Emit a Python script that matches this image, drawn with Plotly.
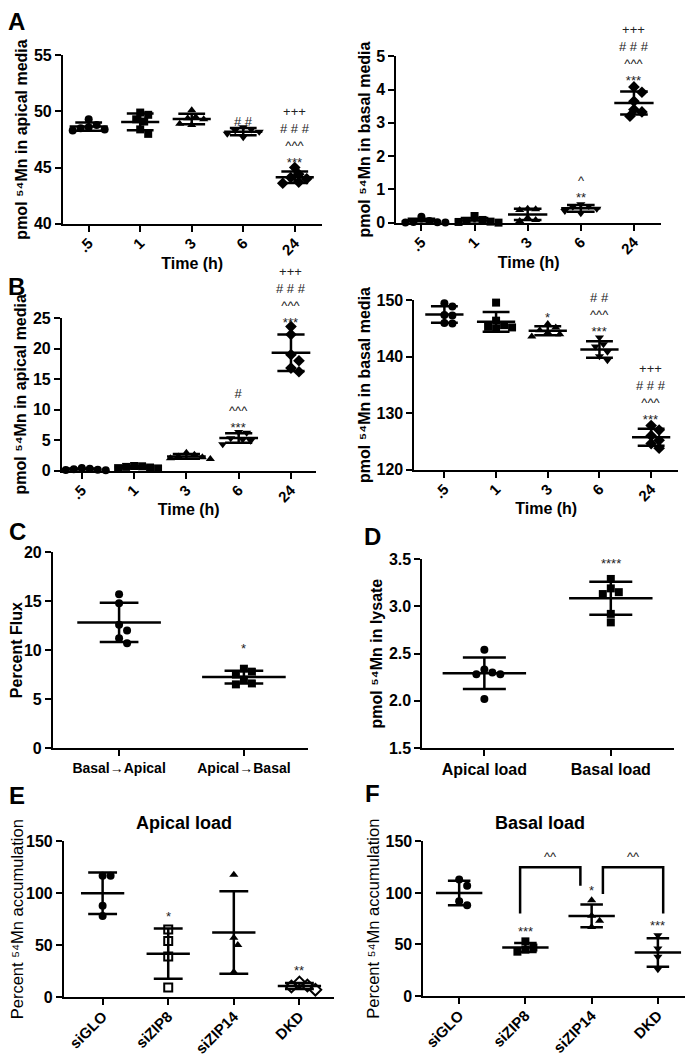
import numpy as np
import plotly.graph_objects as go

# page body has an 8px default margin: draw in reference pixels shifted by OFF
OFF = 8
W, H = 693 - OFF, 1063 - OFF
FONT = "Liberation Sans, Arial, sans-serif"

# ---------------- data ----------------
time_labels = [".5", "1", "3", "6", "24"]

a_apical = [
    [49.3, 48.8, 48.6, 48.5, 48.4, 48.3],
    [49.9, 49.7, 49.3, 49.1, 48.4, 48.0],
    [50.1, 49.5, 49.4, 49.3, 48.9, 48.8],
    [48.6, 48.4, 48.3, 48.2, 48.0, 47.7],
    [45.0, 44.4, 44.1, 44.0, 43.7, 43.6],
]
a_apical_sig = [[], [], [], ["# #"], ["***", "^^^", "# # #", "+++"]]

a_basal = [
    [0.18, 0.05, 0.02, 0.01, 0.0, 0.0],
    [0.20, 0.08, 0.05, 0.03, 0.02, 0.0],
    [0.42, 0.40, 0.38, 0.15, 0.08, 0.05],
    [0.55, 0.50, 0.48, 0.42, 0.35, 0.28],
    [4.08, 3.92, 3.65, 3.40, 3.33, 3.20],
]
a_basal_sig = [[], [], [], ["**", "^"], ["***", "^^^", "# # #", "+++"]]

b_apical = [
    [0.40, 0.30, 0.20, 0.15, 0.10, 0.05],
    [0.75, 0.70, 0.60, 0.50, 0.40, 0.35],
    [2.9, 2.6, 2.3, 2.2, 2.0, 1.9],
    [6.3, 6.2, 5.3, 5.1, 4.9, 4.3],
    [23.6, 22.3, 19.0, 18.0, 16.8, 16.2],
]
b_apical_sig = [[], [], [], ["***", "^^^", "#"], ["***", "^^^", "# # #", "+++"]]

b_basal = [
    [149.5, 148.9, 147.4, 147.3, 146.0, 145.9],
    [149.6, 146.4, 145.6, 145.3, 145.2, 145.0],
    [145.8, 145.2, 144.7, 144.3, 144.0, 143.6],
    [143.4, 142.2, 141.8, 140.9, 140.1, 139.4],
    [127.8, 127.0, 126.0, 125.2, 124.6, 123.8],
]
b_basal_sig = [[], [], ["*"], ["***", "^^^", "# #"], ["***", "^^^", "# # #", "+++"]]

c_labels = ["Basal→Apical", "Apical→Basal"]
c_flux = [[15.7, 14.8, 12.6, 12.0, 11.2, 10.7], [8.1, 7.8, 7.5, 7.0, 6.6, 6.5]]
c_sig = [[], ["*"]]

d_labels = ["Apical load", "Basal load"]
d_lysate = [[2.54, 2.33, 2.30, 2.28, 2.28, 2.02], [3.29, 3.19, 3.15, 3.13, 2.92, 2.83]]
d_sig = [[], ["****"]]

kd_labels = ["siGLO", "siZIP8", "siZIP14", "DKD"]
e_apical_load = [[117, 117, 88, 78], [65, 54, 39, 9], [118, 57, 50, 24], [14, 11, 10, 7]]
e_sig = [[], ["*"], [], ["**"]]

f_basal_load = [[113, 107, 92, 88], [53, 47, 45, 43], [93, 78, 73, 67], [59, 46, 38, 26]]
f_sig = [[], ["***"], ["*"], ["***"]]
f_brackets = [("siZIP8", "siZIP14", "^^"), ("siZIP14", "DKD", "^^")]
f_bracket_top = 125
f_bracket_legs = [(80, 107), (99, 80)]

# ---------------- style / layout ----------------
time_symbols = ["circle", "square", "triangle-up", "triangle-down", "diamond"]
SUP = "⁵⁴"

panels = [
    dict(letter="A", data=a_apical, sig=a_apical_sig, cats=time_labels, symbols=time_symbols,
         box=(62, 321, 48, 219), xr=(-0.5, 4.52), yr=(40, 55), dtick=5,
         ytitle=f"pmol {SUP}Mn in apical media", xtitle="Time (h)", tickangle=-45,
         mhw=0.37, chw=0.26, sigoff=8, xfs=15),
    dict(letter=None, data=a_basal, sig=a_basal_sig, cats=time_labels, symbols=time_symbols,
         box=(396, 661, 49, 218), xr=(-0.47, 4.51), yr=(0, 5), dtick=1,
         ytitle=f"pmol {SUP}Mn in basal media", xtitle="Time (h)", tickangle=-45,
         mhw=0.37, chw=0.26, sigoff=9, xfs=15),
    dict(letter="B", data=b_apical, sig=b_apical_sig, cats=time_labels, symbols=time_symbols,
         box=(61, 315, 315, 470), xr=(-0.38, 4.47), yr=(0, 25), dtick=5,
         ytitle=f"pmol {SUP}Mn in apical media", xtitle="Time (h)", tickangle=-45,
         mhw=0.37, chw=0.26, sigoff=7, xfs=15),
    dict(letter=None, data=b_basal, sig=b_basal_sig, cats=time_labels, symbols=time_symbols,
         box=(414, 678, 297, 469), xr=(-0.58, 4.52), yr=(120, 150), dtick=10,
         ytitle=f"pmol {SUP}Mn in basal media", xtitle="Time (h)", tickangle=-45,
         mhw=0.37, chw=0.26, sigoff=9, xfs=15),
    dict(letter="C", data=c_flux, sig=c_sig, cats=c_labels, symbols=["circle", "square"],
         box=(52, 307, 553, 752), xr=(-0.53, 1.51), yr=(0, 20), dtick=5,
         ytitle="Percent Flux", xtitle=None, tickangle=0,
         mhw=0.335, chw=0.155, sigoff=23, xfs=14),
    dict(letter="D", data=d_lysate, sig=d_sig, cats=d_labels, symbols=["circle", "square"],
         box=(422, 674, 560, 752), xr=(-0.49, 1.5), yr=(1.5, 3.5), dtick=0.5, tickformat=".1f",
         ytitle=f"pmol {SUP}Mn in lysate", xtitle=None, tickangle=0,
         mhw=0.33, chw=0.17, sigoff=18, xfs=16),
    dict(letter="E", data=e_apical_load, sig=e_sig, cats=kd_labels,
         symbols=["circle", "square-open", "triangle-up", "diamond-open"],
         box=(63, 333, 847, 1005), xr=(-0.59, 3.52), yr=(0, 150), dtick=50,
         ytitle=f"Percent {SUP}Mn accumulation", ytitle_bold=False, xtitle=None, tickangle=-45,
         title="Apical load", title_x=183, mhw=0.33, chw=0.22, sigoff=14, xfs=15),
    dict(letter="F", data=f_basal_load, sig=f_sig, cats=kd_labels,
         symbols=["circle", "square", "triangle-up", "triangle-down"],
         box=(423, 691, 847, 1004), xr=(-0.54, 3.5), yr=(0, 150), dtick=50,
         ytitle=f"Percent {SUP}Mn accumulation", ytitle_bold=False, xtitle=None, tickangle=-45,
         title="Basal load", title_x=540, mhw=0.35, chw=0.17, sigoff=12, xfs=15),
]

letter_pos = {"A": (16, 14), "B": (16, 283), "C": (17, 532), "D": (372, 537), "E": (16, 800), "F": (372, 798)}
MSIZE = 8


def fx(px):
    return (px - OFF) / W


def fy(py):
    return 1 - (py - OFF) / H


def jitter(vals, ppu_y, ppc_x, d=MSIZE):
    order = sorted(range(len(vals)), key=lambda i: -vals[i])
    placed, offs = [], [0.0] * len(vals)
    cands = [0]
    for m in range(1, 12):
        cands += [m, -m]
    for i in order:
        ypx = vals[i] * ppu_y
        dx = 0
        for c in cands:
            dx = c * d * 0.5
            if all((dx - px) ** 2 + (ypx - py) ** 2 >= (d * 0.95) ** 2 for px, py in placed):
                break
        placed.append((dx, ypx))
        offs[i] = dx / ppc_x
    return offs


fig = go.Figure()
annotations = []
SIGFS = 13

for pi, p in enumerate(panels):
    n = pi + 1
    xa = "x" if n == 1 else f"x{n}"
    ya = "y" if n == 1 else f"y{n}"
    xkey = "xaxis" if n == 1 else f"xaxis{n}"
    ykey = "yaxis" if n == 1 else f"yaxis{n}"
    x0, x1, y0, y1 = p["box"]
    ppc = (x1 - x0) / (p["xr"][1] - p["xr"][0])
    ppu = (y1 - y0) / (p["yr"][1] - p["yr"][0])

    for ci, vals in enumerate(p["data"]):
        sym = p["symbols"][ci]
        is_open = sym.endswith("-open")
        offs = jitter(vals, ppu, ppc)
        size = MSIZE + (1 if sym.startswith("diamond") else 0)
        fig.add_trace(go.Scatter(
            x=[ci + o for o in offs], y=vals, mode="markers", xaxis=xa, yaxis=ya,
            marker=dict(symbol=sym, size=size, color="black",
                        line=dict(color="black", width=2 if is_open else 0)),
            cliponaxis=False, hoverinfo="skip", showlegend=False))
        m = float(np.mean(vals))
        s = float(np.std(vals, ddof=1))
        mh, ch = p["mhw"], p["chw"]
        lx = [ci - mh, ci + mh, None, ci - ch, ci + ch, None, ci - ch, ci + ch, None, ci, ci]
        ly = [m, m, None, m + s, m + s, None, m - s, m - s, None, m - s, m + s]
        fig.add_trace(go.Scatter(x=lx, y=ly, mode="lines", xaxis=xa, yaxis=ya,
                                 line=dict(color="black", width=2.5),
                                 cliponaxis=False, hoverinfo="skip", showlegend=False))
        if p["sig"][ci]:
            top = max(max(vals), m + s)
            annotations.append(dict(
                x=ci, y=top, xref=xa, yref=ya, text="<br>".join(reversed(p["sig"][ci])),
                showarrow=False, yanchor="bottom", xanchor="center", align="center",
                yshift=p["sigoff"] - 11, borderpad=0,
                font=dict(family=FONT, size=SIGFS, color="#222")))

    xaxis = dict(domain=[fx(x0), fx(x1)], range=list(p["xr"]), anchor=ya,
                 tickvals=list(range(len(p["cats"]))), ticktext=p["cats"],
                 tickangle=p["tickangle"], showline=True, linecolor="black", linewidth=2,
                 ticks="outside", ticklen=6, tickwidth=2, tickcolor="black",
                 showgrid=False, zeroline=False,
                 ticklabelstandoff=-3 if p["tickangle"] else 0,
                 tickfont=dict(family=FONT, size=p["xfs"], color="black", weight="bold"))
    if p["xtitle"]:
        xaxis["title"] = dict(text=p["xtitle"], standoff=0,
                              font=dict(family=FONT, size=16, color="black", weight="bold"))
    bold_title = p.get("ytitle_bold", True)
    yaxis = dict(domain=[fy(y1), fy(y0)], range=list(p["yr"]), anchor=xa,
                 dtick=p["dtick"], tick0=0, showline=True, linecolor="black", linewidth=2,
                 ticks="outside", ticklen=6, tickwidth=2, tickcolor="black",
                 showgrid=False, zeroline=False,
                 tickfont=dict(family=FONT, size=16, color="black", weight="bold"),
                 title=dict(text=p["ytitle"], standoff=2,
                            font=dict(family=FONT, size=16 if bold_title else 16.5, color="black",
                                      weight="bold" if bold_title else "normal")))
    if p.get("tickformat"):
        yaxis["tickformat"] = p["tickformat"]
    fig.layout[xkey] = xaxis
    fig.layout[ykey] = yaxis

    if p.get("title"):
        annotations.append(dict(x=fx(p["title_x"]), y=fy(828), xref="paper", yref="paper",
                                text=p["title"], showarrow=False, xanchor="center", yanchor="middle",
                                font=dict(family=FONT, size=18, color="black", weight="bold")))

    if p["letter"]:
        lx_, ly_ = letter_pos[p["letter"]]
        annotations.append(dict(x=fx(lx_), y=fy(ly_), xref="paper", yref="paper",
                                text=p["letter"], showarrow=False, xanchor="center", yanchor="middle",
                                font=dict(family=FONT, size=24, color="black", weight="bold")))

# brackets in panel F
fi = len(panels)
fxa, fya = f"x{fi}", f"y{fi}"
leg_dx = [(-0.08, -0.17), (0.17, 0.08)]
for (a, b, lab), (la, lb), (da, db) in zip(f_brackets, f_bracket_legs, leg_dx):
    ia, ib = kd_labels.index(a) + da, kd_labels.index(b) + db
    fig.add_trace(go.Scatter(x=[ia, ia, ib, ib], y=[la, f_bracket_top, f_bracket_top, lb],
                             mode="lines", xaxis=fxa, yaxis=fya, line=dict(color="black", width=2.5),
                             cliponaxis=False, hoverinfo="skip", showlegend=False))
    annotations.append(dict(x=(ia + ib) / 2, y=f_bracket_top, xref=fxa, yref=fya, text=lab,
                            showarrow=False, yanchor="middle", yshift=11,
                            font=dict(family=FONT, size=SIGFS, color="#222")))

fig.update_layout(width=W, height=H, margin=dict(l=0, r=0, t=0, b=0),
                  paper_bgcolor="white", plot_bgcolor="white", showlegend=False,
                  annotations=annotations, font=dict(family=FONT, color="black"))
fig.write_html("out.html")
